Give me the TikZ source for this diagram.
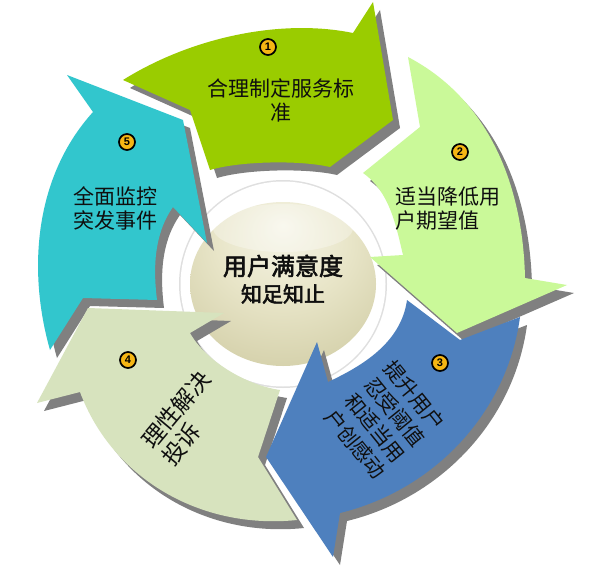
\documentclass[tikz,border=0pt]{standalone}
\usepackage{fontspec}
\newfontfamily\cjk{Noto Sans CJK SC}
\newfontfamily\cjkb[FakeBold=2.5]{Noto Sans CJK SC}
\newfontfamily\numfont{Liberation Sans}
\definecolor{cA}{RGB}{154,204,0}
\definecolor{cB}{RGB}{202,249,153}
\definecolor{cC}{RGB}{78,128,190}
\definecolor{cD}{RGB}{215,227,190}
\definecolor{cE}{RGB}{50,198,205}
\definecolor{shd}{RGB}{128,128,128}
\definecolor{badgec}{RGB}{245,182,20}
\definecolor{txtc}{RGB}{15,15,15}
\definecolor{sphA}{RGB}{246,245,232}
\definecolor{sphB}{RGB}{232,229,200}
\definecolor{sphC}{RGB}{212,208,170}
\definecolor{sphD}{RGB}{125,122,88}
\definecolor{sphE}{RGB}{66,64,42}
\pgfdeclareradialshading{sphshade}{\pgfpoint{0bp}{18bp}}{color(0bp)=(sphA); color(18bp)=(sphB); color(36bp)=(sphC); color(56bp)=(sphD); color(70bp)=(sphE)}
\def\shpA{(123,80) .. controls (190,38) and (280,18) .. (353,33) -- (373,2) -- (393,120) -- (330,167) .. controls (300,160) and (240,161) .. (210,170) -- (190,110) -- cycle}
\def\shpB{(408,57) .. controls (490,100) and (523,187) .. (525,278) -- (567,285) -- (457,333) -- (370,257) -- (403,255) .. controls (396,226) and (390,192) .. (363,173) -- (420,127) -- cycle}
\def\shpC{(520,317) .. controls (507,413) and (434,490) .. (340,513) -- (333,557) -- (266,457) -- (317,342) -- (328,382) .. controls (362,366) and (401,343) .. (407,300) -- (460,340) -- cycle}
\def\shpD{(297,520) .. controls (200,530) and (112,478) .. (80,392) -- (37,403) -- (88,308) -- (224,313) -- (190,333) .. controls (205,360) and (245,385) .. (280,390) -- (258,457) -- cycle}
\def\shpE{(50,350) -- (83,298) -- (157,300) .. controls (153,268) and (154,234) .. (173,207) -- (207,243) -- (183,120) -- (67,75) -- (93,112) .. controls (35,176) and (27,269) .. (50,350) -- cycle}
\tikzset{
  badge/.style={circle, draw=black, line width=1.7pt, fill=badgec, minimum size=16pt, inner sep=0pt, font=\numfont\bfseries\fontsize{11}{11}\selectfont},
  lbl/.style={text=txtc, inner sep=0pt, font=\cjk\fontsize{21}{24}\selectfont},
  ctr/.style={text=txtc, inner sep=0pt},
  shadowfill/.style={fill=shd}
}
\begin{document}
\begin{tikzpicture}[x=1pt,y=-1pt]
\useasboundingbox (0,0) rectangle (593,567);
\fill[white] (0,0) rectangle (593,567);
% central sphere
\fill[gray!25] (283,284) circle (104);
\fill[white] (283,284) circle (102.5);
\shade[shading=sphshade] (283,284) ellipse [x radius=93, y radius=82];
\fill[white, opacity=0.3] (283,228) ellipse [x radius=70, y radius=24];
% shadows
\begin{scope}[shift={(7,8)}]
\fill[shadowfill] \shpA;
\fill[shadowfill] \shpB;
\fill[shadowfill] \shpC;
\fill[shadowfill] \shpD;
\fill[shadowfill] \shpE;
\end{scope}
% arrows
\fill[cE] \shpE;
\fill[cD] \shpD;
\fill[cC] \shpC;
\fill[cB] \shpB;
\fill[cA] \shpA;
% badges
\node[badge] (b1) at (268,47) {1};
\node[badge] (b2) at (460,152) {2};
\node[badge] (b3) at (440,363) {3};
\node[badge] (b4) at (128,360) {4};
\node[badge] (b5) at (127,142) {5};
% labels
\node[lbl, align=center] (t1) at (281,100) {合理制定服务标\\准};
\node[lbl, align=left, anchor=west] (t2) at (395,208.5) {适当降低用\\户期望值};
\node[lbl, align=center] (t5) at (115,208.5) {全面监控\\突发事件};
\node[lbl, align=center, rotate=-51, font=\cjk\fontsize{20.5}{25.5}\selectfont] (t3) at (385,420) {提升用户\\忍受阈值\\和适当用\\户创感动};
\node[lbl, align=left, rotate=50, font=\cjk\fontsize{23}{26}\selectfont] (t4) at (186,418) {理性解决\\投诉};
\node[ctr, font=\cjkb\fontsize{24}{24}\selectfont] (c1) at (283,266) {用户满意度};
\node[ctr, font=\cjkb\fontsize{21}{21}\selectfont] (c2) at (283,294) {知足知止};
\end{tikzpicture}
\end{document}
